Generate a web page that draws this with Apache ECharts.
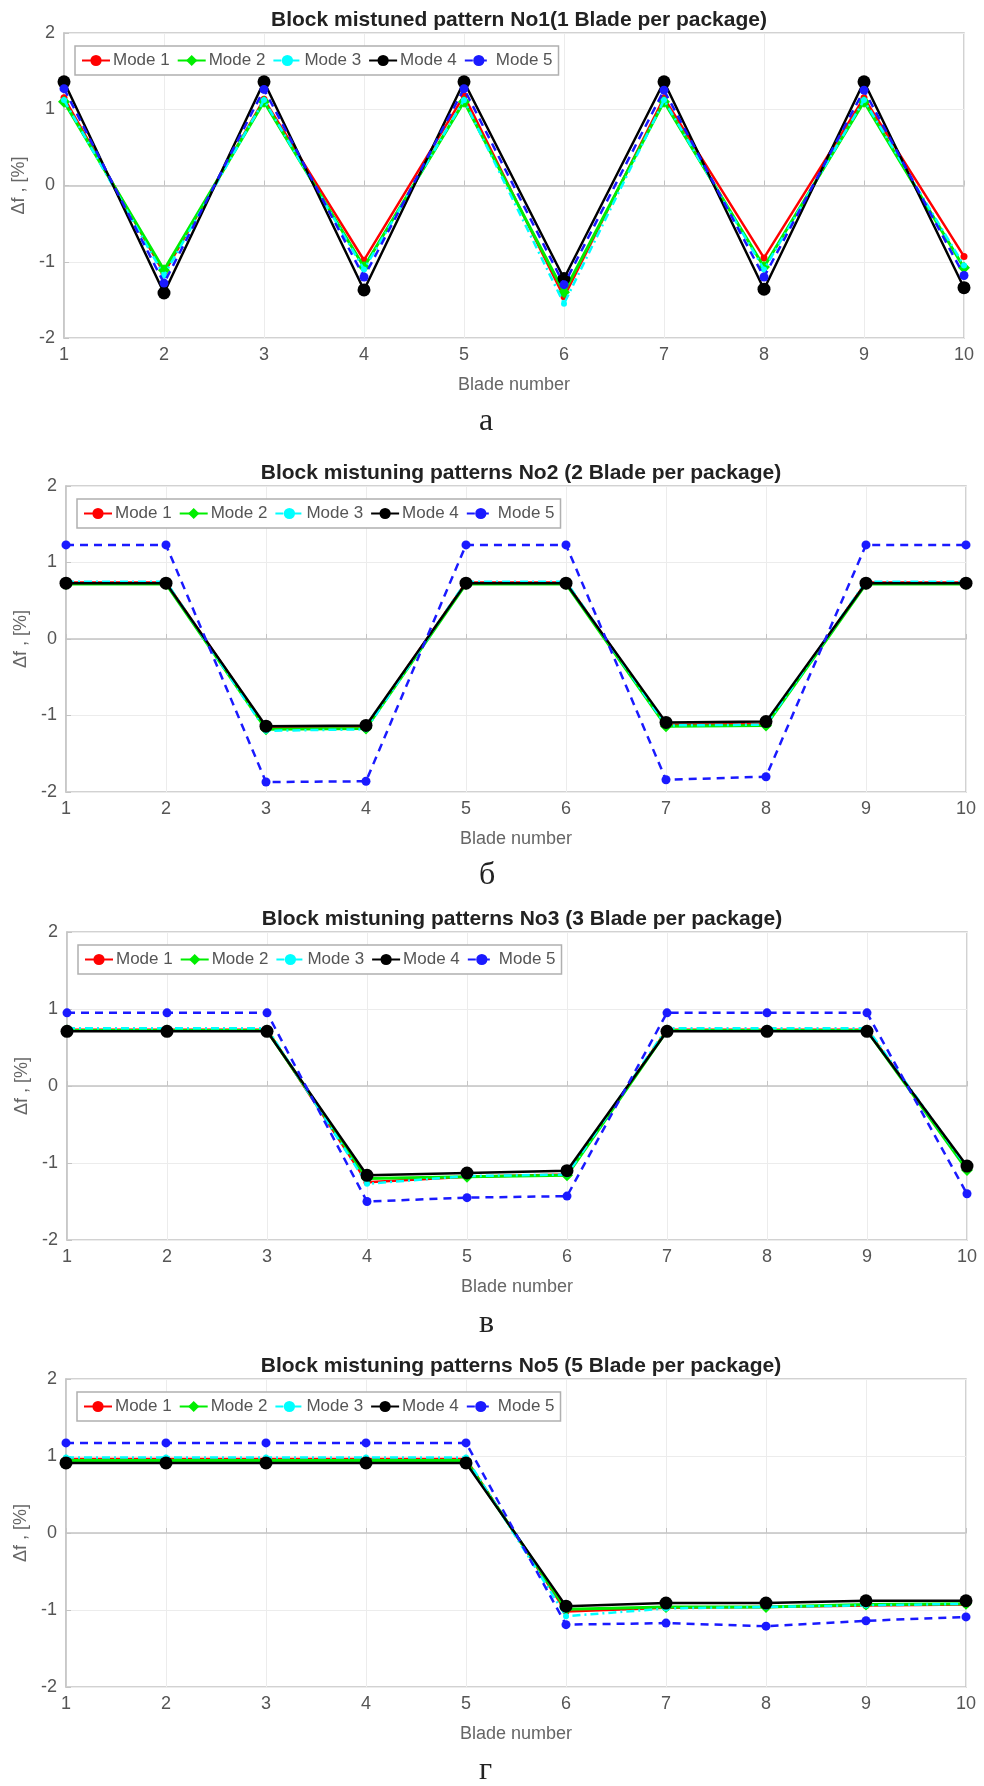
<!DOCTYPE html>
<html>
<head>
<meta charset="utf-8">
<script src="https://cdn.jsdelivr.net/npm/echarts@6/dist/echarts.min.js"></script>
<style>
  html, body { margin: 0; padding: 0; background: #fff; }
  #main { width: 984px; height: 1786px; }
</style>
</head>
<body>
<div id="main"></div>
<script>
// blade numbers on the x axis
const blades = ['1', '2', '3', '4', '5', '6', '7', '8', '9', '10'];
const modeNames = ['Mode 1', 'Mode 2', 'Mode 3', 'Mode 4', 'Mode 5'];

const titles = [
  'Block mistuned pattern No1(1 Blade per package)',
  'Block mistuning patterns No2 (2 Blade per package)',
  'Block mistuning patterns No3 (3 Blade per package)',
  'Block mistuning patterns No5 (5 Blade per package)'
];
const captions = ['а', 'б', 'в', 'г'];

// pattern No1 (1 blade per package)
const p1Mode1 = [1.15, -1.15, 1.13, -0.98, 1.18, -1.46, 1.15, -0.95, 1.15, -0.93];
const p1Mode2 = [1.10, -1.11, 1.10, -1.07, 1.10, -1.40, 1.10, -1.07, 1.10, -1.08];
const p1Mode3 = [1.12, -1.18, 1.12, -1.10, 1.12, -1.55, 1.12, -1.10, 1.12, -1.05];
const p1Mode4 = [1.36, -1.41, 1.36, -1.37, 1.36, -1.22, 1.36, -1.36, 1.36, -1.34];
const p1Mode5 = [1.27, -1.28, 1.26, -1.20, 1.27, -1.30, 1.25, -1.20, 1.25, -1.18];

// pattern No2 (2 blades per package)
const p2Mode1 = [0.74, 0.74, -1.16, -1.15, 0.74, 0.74, -1.12, -1.11, 0.74, 0.74];
const p2Mode2 = [0.72, 0.72, -1.18, -1.17, 0.72, 0.72, -1.14, -1.13, 0.72, 0.72];
const p2Mode3 = [0.75, 0.75, -1.20, -1.18, 0.75, 0.75, -1.13, -1.12, 0.75, 0.75];
const p2Mode4 = [0.73, 0.73, -1.14, -1.13, 0.73, 0.73, -1.09, -1.08, 0.73, 0.73];
const p2Mode5 = [1.23, 1.23, -1.87, -1.86, 1.23, 1.23, -1.84, -1.80, 1.23, 1.23];

// pattern No3 (3 blades per package)
const p3Mode1 = [0.73, 0.73, 0.73, -1.25, -1.18, -1.15, 0.73, 0.73, 0.73, -1.07];
const p3Mode2 = [0.72, 0.72, 0.72, -1.20, -1.18, -1.16, 0.72, 0.72, 0.72, -1.09];
const p3Mode3 = [0.75, 0.75, 0.75, -1.27, -1.17, -1.15, 0.75, 0.75, 0.75, -1.06];
const p3Mode4 = [0.71, 0.71, 0.71, -1.16, -1.13, -1.10, 0.71, 0.71, 0.71, -1.04];
const p3Mode5 = [0.95, 0.95, 0.95, -1.50, -1.45, -1.43, 0.95, 0.95, 0.95, -1.40];

// pattern No5 (5 blades per package)
const p4Mode1 = [0.96, 0.96, 0.96, 0.96, 0.96, -1.02, -0.97, -0.96, -0.94, -0.93];
const p4Mode2 = [0.94, 0.94, 0.94, 0.94, 0.94, -0.99, -0.96, -0.96, -0.93, -0.92];
const p4Mode3 = [0.98, 0.98, 0.98, 0.98, 0.98, -1.08, -0.98, -0.96, -0.94, -0.92];
const p4Mode4 = [0.91, 0.91, 0.91, 0.91, 0.91, -0.95, -0.91, -0.91, -0.88, -0.88];
const p4Mode5 = [1.17, 1.17, 1.17, 1.17, 1.17, -1.19, -1.17, -1.21, -1.14, -1.09];

const panels = [
  [p1Mode1, p1Mode2, p1Mode3, p1Mode4, p1Mode5],
  [p2Mode1, p2Mode2, p2Mode3, p2Mode4, p2Mode5],
  [p3Mode1, p3Mode2, p3Mode3, p3Mode4, p3Mode5],
  [p4Mode1, p4Mode2, p4Mode3, p4Mode4, p4Mode5]
];

// plot boxes in pixels (left, top, height)
const boxes = [
  { left: 64, top: 33, height: 305 },
  { left: 66, top: 486, height: 306 },
  { left: 67, top: 932, height: 308 },
  { left: 66, top: 1379, height: 308 }
];
const plotWidth = 900;

const FONT = '"Liberation Sans", Arial, sans-serif';

// matlab-ish line styles for each mode
const modeStyles = [
  { color: '#ff0000', width: 2.5, type: 'solid', symbol: 'circle', size: 7 },
  { color: '#00ee00', width: 3, type: 'solid', symbol: 'diamond', size: 12 },
  { color: '#00ffff', width: 2.5, type: [8, 4, 2, 4], symbol: 'circle', size: 6 },
  { color: '#000000', width: 2.5, type: 'solid', symbol: 'circle', size: 13 },
  { color: '#1a1aff', width: 2.5, type: [8, 6], symbol: 'circle', size: 9 }
];

const chart = echarts.init(document.getElementById('main'));

let grid = [], xAxis = [], yAxis = [], title = [], legend = [], series = [], graphic = [];

boxes.forEach(function (b, i) {
  grid.push({
    left: b.left, top: b.top, width: plotWidth, height: b.height,
    show: true, borderColor: '#c4c4c4', borderWidth: 1.5, backgroundColor: '#fff'
  });
  xAxis.push({
    type: 'category', gridIndex: i, data: blades, boundaryGap: false,
    name: 'Blade number', nameLocation: 'middle', nameGap: 38,
    nameTextStyle: { fontFamily: FONT, fontSize: 18, color: '#666' },
    axisLine: { lineStyle: { color: '#c4c4c4', width: 1.5 } },
    axisTick: { inside: true, length: 5, lineStyle: { color: '#c4c4c4' } },
    axisLabel: { fontFamily: FONT, fontSize: 18, color: '#555', margin: 8 },
    splitLine: { show: true, lineStyle: { color: '#ececec', width: 1 } }
  });
  yAxis.push({
    type: 'value', gridIndex: i, min: -2, max: 2, interval: 1,
    name: 'Δf , [%]', nameLocation: 'middle', nameGap: 27, nameRotate: 90,
    nameTextStyle: { fontFamily: FONT, fontSize: 18, color: '#666' },
    axisLine: { show: true, lineStyle: { color: '#c4c4c4', width: 1.5 } },
    axisTick: { show: true, inside: true, length: 5, lineStyle: { color: '#c4c4c4' } },
    axisLabel: { fontFamily: FONT, fontSize: 18, color: '#555', margin: 9 },
    splitLine: { show: true, lineStyle: { color: '#ececec', width: 1 } }
  });
  title.push({
    text: titles[i], left: b.left + plotWidth / 2, top: b.top - 28, textAlign: 'center',
    textStyle: { fontFamily: FONT, fontSize: 21, fontWeight: 'bold', color: '#222' }
  });
  legend.push({
    data: modeNames, left: b.left + 11, top: b.top + 13, orient: 'horizontal',
    itemWidth: 28, itemHeight: 14, itemGap: 7,
    padding: [6, 6], borderColor: '#b0b0b0', borderWidth: 1.5, backgroundColor: '#fff',
    textStyle: { fontFamily: FONT, fontSize: 17, color: '#555', padding: [0, 0, 0, -2] }
  });
  panels[i].forEach(function (vals, m) {
    const s = modeStyles[m];
    series.push({
      name: modeNames[m], type: 'line', xAxisIndex: i, yAxisIndex: i,
      data: vals, symbol: s.symbol, symbolSize: s.size, showAllSymbol: true,
      lineStyle: { color: s.color, width: s.width, type: s.type },
      itemStyle: { color: s.color },
      z: 2 + m, animation: false
    });
  });
  graphic.push({
    type: 'text', left: 487 - 8, top: b.top + b.height + 68,
    style: { text: captions[i], font: '32px "Liberation Serif", "DejaVu Serif", serif', fill: '#222' }
  });
});

chart.setOption({
  backgroundColor: '#fff',
  animation: false,
  title: title,
  legend: legend,
  grid: grid,
  xAxis: xAxis,
  yAxis: yAxis,
  series: series,
  graphic: graphic
});
</script>
</body>
</html>
